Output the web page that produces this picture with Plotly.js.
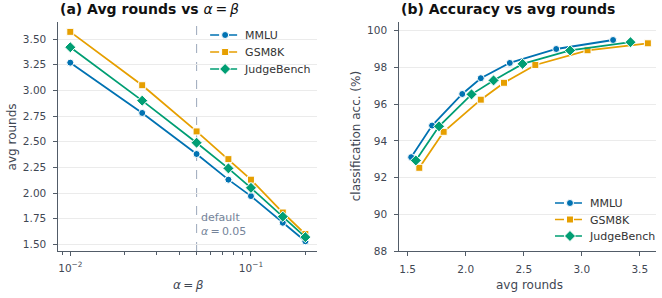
<!DOCTYPE html>
<html><head><meta charset="utf-8">
<script src="https://cdn.plot.ly/plotly-3.0.1.min.js"></script>
<style>html,body{margin:0;padding:0;background:#fff}#c{width:662px;height:298px}</style>
</head><body><div id="c"></div>
<script>
// ---- data ----
const alphas = [0.01, 0.025, 0.05, 0.075, 0.1, 0.15, 0.2];
const datasets = ["MMLU", "GSM8K", "JudgeBench"];
const roundsMMLU = [3.27, 2.78, 2.38, 2.13, 1.97, 1.71, 1.53];
const roundsGSM8K = [3.57, 3.05, 2.60, 2.33, 2.13, 1.81, 1.60];
const roundsJudge = [3.42, 2.90, 2.49, 2.24, 2.05, 1.77, 1.57];
const accMMLU = [99.49, 99.00, 98.24, 97.41, 96.55, 94.83, 93.11];
const accGSM8K = [99.31, 98.93, 98.13, 97.16, 96.24, 94.49, 92.53];
const accJudge = [99.37, 98.92, 98.19, 97.29, 96.53, 94.79, 92.93];
const defaultAlpha = 0.05;
const leftYTicks = [1.5, 1.75, 2.0, 2.25, 2.5, 2.75, 3.0, 3.25, 3.5];
const rightYTicks = [88, 90, 92, 94, 96, 98, 100];
const rightXTicks = [1.5, 2.0, 2.5, 3.0, 3.5];
const logMajor = [0.01, 0.1];
const logMajorText = ["10<sup>−2</sup>", "10<sup>−1</sup>"];
const logMinor = [0.009, 0.02, 0.03, 0.04, 0.05, 0.06, 0.07, 0.08, 0.09, 0.2];

// ---- style ----
const colors = ["#0072B2", "#E69F00", "#009E73"];
const symbols = ["circle", "square", "diamond"];
const msize = [7, 7, 8.5];
const W = 662, H = 298;
const px = x => x / W, py = y => 1 - y / H;
const axisCol = "#525c68", txtCol = "#3f4753";
const tickFont = {family: "DejaVu Sans", size: 10.5, color: txtCol};

const rounds = [roundsMMLU, roundsGSM8K, roundsJudge];
const accs = [accMMLU, accGSM8K, accJudge];
const traces = [];
for (let i = 0; i < 3; i++) {
  const mk = {symbol: symbols[i], size: msize[i], color: colors[i], line: {color: "#ffffff", width: 1}};
  traces.push({x: alphas, y: rounds[i], xaxis: "x", yaxis: "y", mode: "lines+markers",
    line: {color: colors[i], width: 1.8}, marker: mk, showlegend: false, cliponaxis: false});
  traces.push({x: rounds[i], y: accs[i], xaxis: "x2", yaxis: "y2", mode: "lines+markers",
    line: {color: colors[i], width: 1.8}, marker: mk, showlegend: false, cliponaxis: false});
}
// legend entries (dashed line + marker); one legend box per entry, points outside the ranges
const legendNames = ["legend", "legend2", "legend3", "legend4", "legend5", "legend6"];
for (let i = 0; i < 3; i++) {
  const mk = {symbol: symbols[i], size: msize[i], color: colors[i], line: {color: "#ffffff", width: 1}};
  traces.push({x: [1e-6], y: [0], xaxis: "x", yaxis: "y", mode: "lines+markers", name: datasets[i],
    line: {color: colors[i], width: 1.6, dash: "dash"}, marker: mk, legend: legendNames[i], hoverinfo: "skip"});
  traces.push({x: [-10], y: [0], xaxis: "x2", yaxis: "y2", mode: "lines+markers", name: datasets[i],
    line: {color: colors[i], width: 1.6, dash: "dash"}, marker: mk, legend: legendNames[3 + i], hoverinfo: "skip"});
}

const yTop = 22, yBot = 251;
const baseAxis = {showline: true, linecolor: axisCol, linewidth: 1.1, ticks: "outside", ticklen: 4,
  tickcolor: axisCol, tickwidth: 1, tickfont: tickFont, zeroline: false, mirror: false};
const legendBase = {font: {family: "DejaVu Sans", size: 11, color: "#333"}, bgcolor: "rgba(0,0,0,0)",
  itemwidth: 30, tracegroupgap: 0, xanchor: "left", yanchor: "middle"};
const leftLegY = [35, 52, 69], rightLegY = [203, 219.5, 236];
const layout = {
  width: W, height: H, margin: {l: 0, r: 0, t: 0, b: 0}, paper_bgcolor: "#fff", plot_bgcolor: "#fff",
  showlegend: true,
  xaxis: Object.assign({}, baseAxis, {type: "log", domain: [px(59), px(320)],
    range: [Math.log10(0.0086), Math.log10(0.2323)], tickmode: "array", tickvals: logMajor, ticktext: logMajorText,
    showgrid: false, anchor: "y", ticklabelstandoff: 3,
    minor: {tickmode: "array", tickvals: logMinor, ticks: "outside", ticklen: 2.5, tickcolor: axisCol, showgrid: false}}),
  yaxis: Object.assign({}, baseAxis, {domain: [py(yBot), py(yTop)], range: [1.435, 3.666], tickmode: "array",
    tickvals: leftYTicks, tickformat: ".2f", showgrid: true, gridcolor: "#ebebeb", gridwidth: 1, anchor: "x",
    ticklabelstandoff: 5}),
  xaxis2: Object.assign({}, baseAxis, {domain: [px(403), 1], range: [1.428, 3.64], tickmode: "array",
    tickvals: rightXTicks, tickformat: ".1f", showgrid: false, anchor: "y2", ticklabelstandoff: 4}),
  yaxis2: Object.assign({}, baseAxis, {domain: [py(yBot), py(yTop)], range: [88, 100.47], tickmode: "array",
    tickvals: rightYTicks, showgrid: true, gridcolor: "#ebebeb", gridwidth: 1, anchor: "x2",
    ticklabelstandoff: 5}),
  shapes: [{type: "line", xref: "x", yref: "paper", x0: defaultAlpha, x1: defaultAlpha,
    y0: py(yBot), y1: py(yTop), line: {color: "#a3afc0", width: 1.1, dash: "dash"}, layer: "below"}],
  annotations: [
    {xref: "paper", yref: "paper", x: px(59), y: py(9), xanchor: "left", yanchor: "middle", showarrow: false,
      text: "<b>(a) Avg rounds vs </b><i>α</i>\u2009=\u2009<i>β</i>", font: {family: "DejaVu Sans", size: 14, color: "#111"}},
    {xref: "paper", yref: "paper", x: px(403), y: py(9), xanchor: "left", yanchor: "middle", showarrow: false,
      text: "<b>(b) Accuracy vs avg rounds</b>", font: {family: "DejaVu Sans", size: 14, color: "#111"}},
    {xref: "paper", yref: "paper", x: px(12), y: py(136.5), xanchor: "center", yanchor: "middle", textangle: -90,
      showarrow: false, text: "avg rounds", font: {family: "DejaVu Sans", size: 12, color: txtCol}},
    {xref: "paper", yref: "paper", x: px(190), y: py(285), xanchor: "center", yanchor: "middle", showarrow: false,
      text: "<i>α</i>\u2009=\u2009<i>β</i>", font: {family: "DejaVu Sans", size: 12, color: txtCol}},
    {xref: "paper", yref: "paper", x: px(359), y: py(136.5), xanchor: "center", yanchor: "middle", textangle: -90,
      showarrow: false, text: "classification acc. (%)", font: {family: "DejaVu Sans", size: 12, color: txtCol}},
    {xref: "paper", yref: "paper", x: px(534), y: py(285), xanchor: "center", yanchor: "middle", showarrow: false,
      text: "avg rounds", font: {family: "DejaVu Sans", size: 12, color: txtCol}},
    {xref: "x", yref: "paper", x: Math.log10(defaultAlpha), y: py(224), xanchor: "left", yanchor: "middle",
      xshift: 2, showarrow: false, align: "left",
      text: "default<br><i>α</i>\u2009=\u2009" + defaultAlpha.toFixed(2), font: {family: "DejaVu Sans", size: 11, color: "#75849a"}}
  ]
};
for (let i = 0; i < 3; i++) {
  layout[legendNames[i]] = Object.assign({}, legendBase, {x: px(207), y: py(leftLegY[i])});
  layout[legendNames[3 + i]] = Object.assign({}, legendBase, {x: px(555), y: py(rightLegY[i])});
}
Plotly.newPlot("c", traces, layout, {staticPlot: true, displayModeBar: false});
</script></body></html>
